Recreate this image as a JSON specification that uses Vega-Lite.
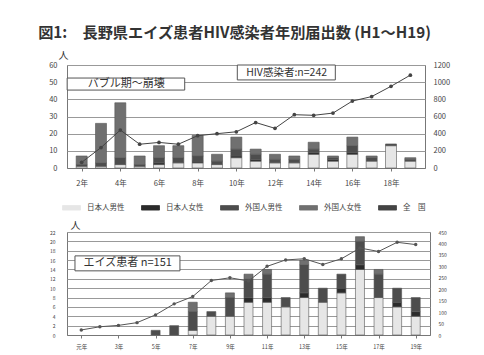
{
  "$schema": "https://vega.github.io/schema/vega-lite/v6.json",
  "padding": {"left": 38, "top": 26, "right": 10, "bottom": 2},
  "background": "white",
  "title": {"text": "図1:　長野県エイズ患者HIV感染者年別届出数 (H1～H19)", "anchor": "start", "fontSize": 15.2, "font": "Noto Sans CJK JP", "fontWeight": "bold", "color": "#333", "offset": 8, "dx": -10},
  "config": {
    "font": "Noto Sans CJK JP",
    "view": {"stroke": "#777", "strokeWidth": 1},
    "axis": {"labelColor": "#444", "domainColor": "#777", "tickColor": "#777", "gridColor": "#999", "labelFont": "Noto Sans CJK JP", "titleFont": "Noto Sans CJK JP", "titleColor": "#333"}
  },
  "resolve": {"scale": {"color": "independent"}, "legend": {"color": "independent"}},
  "datasets": {
    "hiv": [
      {"year": 2, "type": "日本人男性", "n": 1}, {"year": 2, "type": "外国人男性", "n": 1}, {"year": 2, "type": "外国人女性", "n": 5},
      {"year": 3, "type": "日本人男性", "n": 1}, {"year": 3, "type": "外国人男性", "n": 2}, {"year": 3, "type": "外国人女性", "n": 23},
      {"year": 4, "type": "日本人男性", "n": 2}, {"year": 4, "type": "外国人男性", "n": 4}, {"year": 4, "type": "外国人女性", "n": 32},
      {"year": 5, "type": "日本人男性", "n": 1}, {"year": 5, "type": "外国人男性", "n": 1}, {"year": 5, "type": "外国人女性", "n": 5},
      {"year": 6, "type": "日本人男性", "n": 2}, {"year": 6, "type": "日本人女性", "n": 1}, {"year": 6, "type": "外国人男性", "n": 3}, {"year": 6, "type": "外国人女性", "n": 7},
      {"year": 7, "type": "日本人男性", "n": 3}, {"year": 7, "type": "外国人男性", "n": 3}, {"year": 7, "type": "外国人女性", "n": 7},
      {"year": 8, "type": "日本人男性", "n": 3}, {"year": 8, "type": "日本人女性", "n": 1}, {"year": 8, "type": "外国人男性", "n": 3}, {"year": 8, "type": "外国人女性", "n": 12},
      {"year": 9, "type": "日本人男性", "n": 2}, {"year": 9, "type": "外国人男性", "n": 2}, {"year": 9, "type": "外国人女性", "n": 4},
      {"year": 10, "type": "日本人男性", "n": 6}, {"year": 10, "type": "日本人女性", "n": 1}, {"year": 10, "type": "外国人男性", "n": 4}, {"year": 10, "type": "外国人女性", "n": 7},
      {"year": 11, "type": "日本人男性", "n": 4}, {"year": 11, "type": "日本人女性", "n": 1}, {"year": 11, "type": "外国人男性", "n": 3}, {"year": 11, "type": "外国人女性", "n": 3},
      {"year": 12, "type": "日本人男性", "n": 3}, {"year": 12, "type": "外国人男性", "n": 2}, {"year": 12, "type": "外国人女性", "n": 3},
      {"year": 13, "type": "日本人男性", "n": 3}, {"year": 13, "type": "外国人男性", "n": 2}, {"year": 13, "type": "外国人女性", "n": 2},
      {"year": 14, "type": "日本人男性", "n": 8}, {"year": 14, "type": "日本人女性", "n": 1}, {"year": 14, "type": "外国人男性", "n": 2}, {"year": 14, "type": "外国人女性", "n": 4},
      {"year": 15, "type": "日本人男性", "n": 4}, {"year": 15, "type": "日本人女性", "n": 1}, {"year": 15, "type": "外国人男性", "n": 1}, {"year": 15, "type": "外国人女性", "n": 1},
      {"year": 16, "type": "日本人男性", "n": 8}, {"year": 16, "type": "日本人女性", "n": 1}, {"year": 16, "type": "外国人男性", "n": 4}, {"year": 16, "type": "外国人女性", "n": 5},
      {"year": 17, "type": "日本人男性", "n": 4}, {"year": 17, "type": "外国人男性", "n": 2}, {"year": 17, "type": "外国人女性", "n": 1},
      {"year": 18, "type": "日本人男性", "n": 13}, {"year": 18, "type": "外国人男性", "n": 1},
      {"year": 19, "type": "日本人男性", "n": 4}, {"year": 19, "type": "外国人男性", "n": 1}, {"year": 19, "type": "外国人女性", "n": 1}
    ],
    "hivnat": [
      {"year": 2, "n": 66}, {"year": 3, "n": 238}, {"year": 4, "n": 442}, {"year": 5, "n": 277}, {"year": 6, "n": 298},
      {"year": 7, "n": 277}, {"year": 8, "n": 376}, {"year": 9, "n": 400}, {"year": 10, "n": 422}, {"year": 11, "n": 530},
      {"year": 12, "n": 462}, {"year": 13, "n": 621}, {"year": 14, "n": 614}, {"year": 15, "n": 640}, {"year": 16, "n": 780},
      {"year": 17, "n": 832}, {"year": 18, "n": 952}, {"year": 19, "n": 1082}
    ],
    "aids": [
      {"year": 5, "type": "外国人男性", "n": 1},
      {"year": 6, "type": "外国人男性", "n": 2},
      {"year": 7, "type": "日本人男性", "n": 1}, {"year": 7, "type": "外国人男性", "n": 4}, {"year": 7, "type": "外国人女性", "n": 2},
      {"year": 8, "type": "日本人男性", "n": 4}, {"year": 8, "type": "外国人男性", "n": 1},
      {"year": 9, "type": "日本人男性", "n": 4}, {"year": 9, "type": "外国人男性", "n": 4}, {"year": 9, "type": "外国人女性", "n": 1},
      {"year": 10, "type": "日本人男性", "n": 7}, {"year": 10, "type": "日本人女性", "n": 1}, {"year": 10, "type": "外国人男性", "n": 4}, {"year": 10, "type": "外国人女性", "n": 1},
      {"year": 11, "type": "日本人男性", "n": 7}, {"year": 11, "type": "日本人女性", "n": 1}, {"year": 11, "type": "外国人男性", "n": 5}, {"year": 11, "type": "外国人女性", "n": 1},
      {"year": 12, "type": "日本人男性", "n": 6}, {"year": 12, "type": "外国人男性", "n": 2},
      {"year": 13, "type": "日本人男性", "n": 8}, {"year": 13, "type": "日本人女性", "n": 1}, {"year": 13, "type": "外国人男性", "n": 6}, {"year": 13, "type": "外国人女性", "n": 1},
      {"year": 14, "type": "日本人男性", "n": 7}, {"year": 14, "type": "外国人男性", "n": 3},
      {"year": 15, "type": "日本人男性", "n": 9}, {"year": 15, "type": "日本人女性", "n": 1}, {"year": 15, "type": "外国人男性", "n": 3},
      {"year": 16, "type": "日本人男性", "n": 14}, {"year": 16, "type": "日本人女性", "n": 1}, {"year": 16, "type": "外国人男性", "n": 5}, {"year": 16, "type": "外国人女性", "n": 1},
      {"year": 17, "type": "日本人男性", "n": 8}, {"year": 17, "type": "外国人男性", "n": 5}, {"year": 17, "type": "外国人女性", "n": 1},
      {"year": 18, "type": "日本人男性", "n": 6}, {"year": 18, "type": "日本人女性", "n": 1}, {"year": 18, "type": "外国人男性", "n": 3},
      {"year": 19, "type": "日本人男性", "n": 4}, {"year": 19, "type": "日本人女性", "n": 1}, {"year": 19, "type": "外国人男性", "n": 3}
    ],
    "aidsnat": [
      {"year": 1, "n": 22}, {"year": 2, "n": 36}, {"year": 3, "n": 42}, {"year": 4, "n": 54}, {"year": 5, "n": 88},
      {"year": 6, "n": 136}, {"year": 7, "n": 168}, {"year": 8, "n": 238}, {"year": 9, "n": 250}, {"year": 10, "n": 236},
      {"year": 11, "n": 300}, {"year": 12, "n": 328}, {"year": 13, "n": 333}, {"year": 14, "n": 308}, {"year": 15, "n": 333},
      {"year": 16, "n": 380}, {"year": 17, "n": 365}, {"year": 18, "n": 405}, {"year": 19, "n": 395}
    ]
  },
  "spacing": 6,
  "vconcat": [
    {
      "width": 358,
      "height": 103,
      "resolve": {"scale": {"y": "independent"}, "axis": {"y": "independent"}},
      "layer": [
        {
          "data": {"name": "hiv"},
          "mark": {"type": "bar", "width": 11, "stroke": "#555", "strokeWidth": 0.6},
          "encoding": {
            "x": {"field": "year", "type": "quantitative", "scale": {"domain": [1.5, 19.5], "nice": false, "zero": false},
              "axis": {"values": [2, 4, 6, 8, 10, 12, 14, 16, 18], "labelExpr": "datum.value + '年'", "title": null, "grid": false, "tickSize": 3, "labelFontSize": 7.5, "labelPadding": 8}},
            "y": {"field": "n", "type": "quantitative", "aggregate": "sum", "stack": "zero", "scale": {"domain": [0, 60], "nice": false},
              "axis": {"orient": "left", "values": [0, 10, 20, 30, 40, 50, 60], "title": "人", "titleAngle": 0, "titleAlign": "center", "titleBaseline": "middle", "titleX": -4, "titleY": -10, "titleFontSize": 10, "titleFontWeight": "normal", "labelFontSize": 7.5, "ticks": false, "labelPadding": 10, "grid": true, "domain": false, "labelOverlap": false}},
            "order": {"field": "type", "sort": "descending"},
            "color": {"field": "type", "type": "nominal",
              "scale": {"domain": ["日本人男性", "日本人女性", "外国人男性", "外国人女性", "全　国"], "range": ["#e6e6e6", "#2b2b2b", "#4d4d4d", "#707070", "#444444"]},
              "legend": {"title": null, "orient": "none", "legendX": -5, "legendY": 133, "direction": "horizontal", "labelFontSize": 7.5, "labelColor": "#444",
                "symbolType": "M-1,-0.25H1V0.25H-1Z", "symbolSize": 324, "symbolStrokeWidth": 0.8, "labelOffset": 6, "columnPadding": 14, "padding": 0,
                "encode": {"symbols": {"update": {
                  "shape": {"signal": "datum.value === '全　国' ? 'M-1,0H1M-0.12,-0.12H0.12V0.12H-0.12Z' : 'M-1,-0.25H1V0.25H-1Z'"},
                  "stroke": {"value": "#444"},
                  "fill": {"signal": "datum.value === '日本人男性' ? '#e6e6e6' : datum.value === '日本人女性' ? '#2b2b2b' : datum.value === '外国人男性' ? '#4d4d4d' : datum.value === '外国人女性' ? '#707070' : '#444444'"}
                }}}}
            }
          }
        },
        {
          "data": {"name": "hivnat"},
          "mark": {"type": "line", "color": "#444", "strokeWidth": 1, "point": {"filled": true, "size": 14}},
          "encoding": {
            "x": {"field": "year", "type": "quantitative", "scale": {"domain": [1.5, 19.5], "nice": false, "zero": false}},
            "y": {"field": "n", "type": "quantitative", "scale": {"domain": [0, 1200], "nice": false},
              "axis": {"orient": "right", "values": [0, 200, 400, 600, 800, 1000, 1200], "format": "d", "title": null, "grid": false, "ticks": false, "labelFontSize": 7.5, "labelPadding": 8, "domain": false, "labelOverlap": false}},
            "color": {"datum": "全　国"}
          }
        },
        {
          "data": {"values": [{}]},
          "mark": {"type": "rect", "fill": "white", "stroke": "#555", "strokeWidth": 1},
          "encoding": {"x": {"datum": 1.25}, "x2": {"datum": 7.33}, "y": {"datum": 45.4, "scale": {"domain": [0, 60], "nice": false}, "axis": null}, "y2": {"datum": 52.4}}
        },
        {
          "data": {"values": [{}]},
          "mark": {"type": "text", "text": "バブル期～崩壊", "fontSize": 11, "color": "#333"},
          "encoding": {"x": {"datum": 4.3}, "y": {"datum": 48.9, "scale": {"domain": [0, 60], "nice": false}, "axis": null}}
        },
        {
          "data": {"values": [{}]},
          "mark": {"type": "rect", "fill": "white", "stroke": "#555", "strokeWidth": 1},
          "encoding": {"x": {"datum": 10.05}, "x2": {"datum": 15.12}, "y": {"datum": 51.3, "scale": {"domain": [0, 60], "nice": false}, "axis": null}, "y2": {"datum": 60}}
        },
        {
          "data": {"values": [{}]},
          "mark": {"type": "text", "text": "HIV感染者:n=242", "fontSize": 10.5, "color": "#333"},
          "encoding": {"x": {"datum": 12.6}, "y": {"datum": 55.6, "scale": {"domain": [0, 60], "nice": false}, "axis": null}}
        }
      ]
    },
    {
      "width": 363,
      "height": 103,
      "resolve": {"scale": {"y": "independent"}, "axis": {"y": "independent"}},
      "layer": [
        {
          "data": {"name": "aids"},
          "mark": {"type": "bar", "width": 9, "stroke": "#555", "strokeWidth": 0.6},
          "encoding": {
            "x": {"field": "year", "type": "quantitative", "scale": {"domain": [0.5, 19.5], "nice": false, "zero": false},
              "axis": {"values": [1, 3, 5, 7, 9, 11, 13, 15, 17, 19], "labelExpr": "datum.value == 1 ? '元年' : datum.value + '年'", "title": null, "grid": false, "tickSize": 3, "labelFontSize": 5.5, "labelPadding": 6, "labelOverlap": false}},
            "y": {"field": "n", "type": "quantitative", "aggregate": "sum", "stack": "zero", "scale": {"domain": [0, 22], "nice": false},
              "axis": {"orient": "left", "values": [0, 2, 4, 6, 8, 10, 12, 14, 16, 18, 20, 22], "title": "人", "titleAngle": 0, "titleAlign": "center", "titleBaseline": "middle", "titleX": 8, "titleY": -7, "titleFontSize": 10, "titleFontWeight": "normal", "labelFontSize": 5, "ticks": false, "labelPadding": 12, "grid": true, "domain": false, "labelOverlap": false}},
            "order": {"field": "type", "sort": "descending"},
            "color": {"field": "type", "type": "nominal",
              "scale": {"domain": ["日本人男性", "日本人女性", "外国人男性", "外国人女性"], "range": ["#e6e6e6", "#2b2b2b", "#4d4d4d", "#707070"]},
              "legend": null}
          }
        },
        {
          "data": {"name": "aidsnat"},
          "mark": {"type": "line", "color": "#555", "strokeWidth": 1, "point": {"filled": true, "size": 12, "color": "#555"}},
          "encoding": {
            "x": {"field": "year", "type": "quantitative", "scale": {"domain": [0.5, 19.5], "nice": false, "zero": false}},
            "y": {"field": "n", "type": "quantitative", "scale": {"domain": [0, 450], "nice": false},
              "axis": {"orient": "right", "values": [0, 50, 100, 150, 200, 250, 300, 350, 400, 450], "title": null, "grid": false, "ticks": false, "labelFontSize": 5, "labelPadding": 8, "domain": false, "labelOverlap": false}}
          }
        },
        {
          "data": {"values": [{}]},
          "mark": {"type": "rect", "fill": "white", "stroke": "#555", "strokeWidth": 1},
          "encoding": {"x": {"datum": 0.66}, "x2": {"datum": 6.31}, "y": {"datum": 13.7, "scale": {"domain": [0, 22], "nice": false}, "axis": null}, "y2": {"datum": 16.9}}
        },
        {
          "data": {"values": [{}]},
          "mark": {"type": "text", "text": "エイズ患者 n=151", "fontSize": 11, "color": "#333"},
          "encoding": {"x": {"datum": 3.5}, "y": {"datum": 15.3, "scale": {"domain": [0, 22], "nice": false}, "axis": null}}
        }
      ]
    }
  ]
}
